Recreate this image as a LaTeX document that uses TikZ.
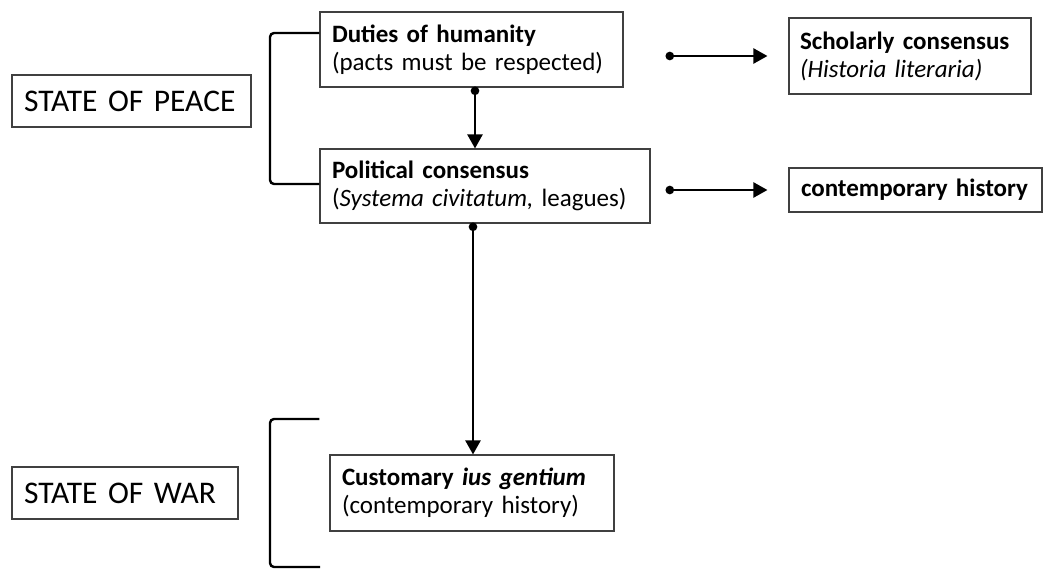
\documentclass[tikz,border=0pt]{standalone}
\usepackage{fontspec}
\setmainfont{Carlito}
\usetikzlibrary{arrows.meta}
\begin{document}
\begin{tikzpicture}[x=1pt,y=-1pt,
  box/.style={draw=black!75,line width=1.1pt,rectangle,inner xsep=12pt,inner ysep=0pt,align=left,font=\fontsize{25}{28}\selectfont},
  statebox/.style={draw=black!75,line width=1.1pt,rectangle,inner xsep=12pt,inner ysep=0pt,align=left,font=\fontsize{31.5}{36}\selectfont},
  conn/.style={line width=2.3pt,{Circle[length=8.5pt]}-{Triangle[length=14pt,width=15pt]}},
  brk/.style={line width=2.4pt,rounded corners=4pt}]
\useasboundingbox (0,0) rectangle (1045,570);
\node[box,minimum width=303pt,minimum height=75pt,text width=279pt] (duties) at (471.5,49.5) {\textbf{Duties of humanity}\\(pacts must be respected)};
\node[box,minimum width=330pt,minimum height=74pt,text width=306pt] (political) at (485,186) {\textbf{Political consensus}\\(\textit{Systema civitatum,} leagues)};
\node[box,minimum width=242pt,minimum height=76pt,text width=220pt,inner xsep=11pt] (scholarly) at (910,56) {\textbf{Scholarly consensus}\\\textit{(Historia literaria)}};
\node[box,minimum width=253pt,minimum height=44pt,text width=229pt] (contemp) at (915.5,190) {\textbf{contemporary history}};
\node[box,minimum width=284pt,minimum height=76pt,text width=260pt] (custom) at (472,493) {\textbf{Customary \textit{ius gentium}}\\(contemporary history)};
\node[statebox,minimum width=239pt,minimum height=52pt,text width=215pt] (peace) at (131.5,101) {STATE OF PEACE};
\node[statebox,minimum width=226pt,minimum height=52pt,text width=202pt] (war) at (125,493) {STATE OF WAR};
% connectors
\draw[conn,shorten <=-1pt] (duties.south -| 475,0) -- (political.north -| 475,0);
\draw[conn,shorten <=-1pt] (political.south -| 473,0) -- (custom.north -| 473,0);
\draw[conn,shorten <=42pt,shorten >=21pt] (duties.east |- scholarly.west) -- (scholarly.west);
\draw[conn,shorten <=15pt,shorten >=21pt] (political.east |- contemp.west) -- (contemp.west);
% brackets
\draw[brk] (duties.west |- 0,33) -- (270,33) -- (270,184) -- (political.west |- 0,184);
\draw[brk] (custom.west |- 0,419) ++(-10,0) -- (270,419) -- (270,567) -- (320,567);
\end{tikzpicture}
\end{document}
